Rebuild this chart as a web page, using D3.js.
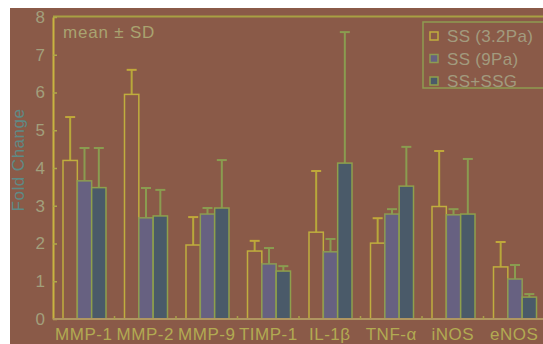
<!DOCTYPE html>
<html>
<head>
<meta charset="utf-8">
<script src="https://cdn.jsdelivr.net/npm/d3@7"></script>
<style>
  body { margin: 0; background: #fff; }
  text { font-family: "Liberation Sans", Arial, sans-serif; }
</style>
</head>
<body>
<div id="chart"></div>
<script>
"use strict"

var categories = ["MMP-1", "MMP-2", "MMP-9", "TIMP-1", "IL-1β", "TNF-α", "iNOS", "eNOS"];
var seriesNames = ["SS (3.2Pa)", "SS (9Pa)", "SS+SSG"];
var ss32 = [4.2, 5.95, 1.96, 1.8, 2.3, 2.01, 2.98, 1.38];
var ss32Sd = [1.15, 0.65, 0.74, 0.27, 1.62, 0.66, 1.47, 0.66];
var ss9 = [3.66, 2.68, 2.78, 1.46, 1.78, 2.78, 2.76, 1.06];
var ss9Sd = [0.87, 0.79, 0.16, 0.42, 0.34, 0.13, 0.15, 0.37];
var ssg = [3.48, 2.73, 2.94, 1.27, 4.13, 3.52, 2.78, 0.58];
var ssgSd = [1.05, 0.69, 1.27, 0.13, 3.47, 1.04, 1.46, 0.08];
var yTicks = [0, 1, 2, 3, 4, 5, 6, 7, 8];

var bg = "#8a5a48";
var fills = [bg, "#676181", "#4a5a69"];
var strokes = ["#c0ae3e", "#8c9c52", "#8ea04c"];

var svg = d3.select("#chart").append("svg")
  .attr("width", 543)
  .attr("height", 344);

svg.append("rect")
  .attr("x", 10).attr("y", 8)
  .attr("width", 533).attr("height", 336)
  .attr("fill", bg);

var pLeft = 53, pTop = 17, pBottom = 319, pRight = 545;

var x = d3.scaleBand()
  .domain(categories)
  .range([pLeft, pRight]);

var xs = d3.scaleBand()
  .domain(seriesNames)
  .range([10, 53]);

var y = d3.scaleLinear()
  .domain([0, 8])
  .range([pBottom, pTop]);

// table for drawing
var rows = [];
categories.forEach(function(c, i) {
  [[ss32, ss32Sd], [ss9, ss9Sd], [ssg, ssgSd]].forEach(function(s, j) {
    rows.push({cat: c, s: j, v: s[0][i], sd: s[1][i]});
  });
});

function cx(d) { return x(d.cat) + xs(seriesNames[d.s]) + xs.bandwidth() / 2 }

// top frame line
svg.append("line")
  .attr("x1", pLeft).attr("x2", 543)
  .attr("y1", pTop - 0.5).attr("y2", pTop - 0.5)
  .attr("stroke", "#a8a042").attr("stroke-width", 2);

// error bars
var eb = svg.append("g");
eb.selectAll("line.v").data(rows).enter().append("line")
  .attr("class", "v")
  .attr("x1", cx).attr("x2", cx)
  .attr("y1", function(d) { return y(d.v) })
  .attr("y2", function(d) { return y(d.v + d.sd) })
  .attr("stroke", function(d) { return d.s == 0 ? "#b8a83a" : "#8a9c50" })
  .attr("stroke-width", 2);
eb.selectAll("line.c").data(rows).enter().append("line")
  .attr("class", "c")
  .attr("x1", function(d) { return cx(d) - 5 })
  .attr("x2", function(d) { return cx(d) + 5 })
  .attr("y1", function(d) { return y(d.v + d.sd) })
  .attr("y2", function(d) { return y(d.v + d.sd) })
  .attr("stroke", function(d) { return d.s == 0 ? "#c0a83a" : "#8a9c50" })
  .attr("stroke-width", 2);

// bars
svg.append("g").selectAll("rect").data(rows).enter().append("rect")
  .attr("x", function(d) { return x(d.cat) + xs(seriesNames[d.s]) })
  .attr("y", function(d) { return y(d.v) })
  .attr("width", xs.bandwidth())
  .attr("height", function(d) { return pBottom - y(d.v) })
  .attr("fill", function(d) { return fills[d.s] })
  .attr("stroke", function(d) { return strokes[d.s] })
  .attr("stroke-width", 1.5);

// y axis
var yAxis = svg.append("g")
  .attr("transform", "translate(" + pLeft + ",0)")
  .call(d3.axisLeft(y).tickValues(yTicks).tickSizeInner(-4).tickSizeOuter(0).tickPadding(8));
yAxis.select(".domain").attr("stroke", "#c8b440").attr("stroke-width", 2);
yAxis.selectAll(".tick line").attr("stroke", "#b0a848").attr("stroke-width", 1.5);
yAxis.selectAll(".tick text")
  .attr("fill", "#a29f7c")
  .style("font-size", "17px");

// x axis line + small ticks at band edges
svg.append("line")
  .attr("x1", pLeft).attr("x2", 543)
  .attr("y1", pBottom).attr("y2", pBottom)
  .attr("stroke", "#b09660").attr("stroke-width", 2);
svg.append("g").selectAll("line").data(categories.slice(1)).enter().append("line")
  .attr("x1", function(d) { return x(d) }).attr("x2", function(d) { return x(d) })
  .attr("y1", pBottom).attr("y2", pBottom - 3)
  .attr("stroke", "#a8a048").attr("stroke-width", 1.5);

svg.append("g").selectAll("text").data(categories).enter().append("text")
  .attr("x", function(d) { return x(d) + x.bandwidth() / 2 })
  .attr("y", 340)
  .attr("text-anchor", "middle")
  .attr("fill", "#b2aa52")
  .style("font-size", "17px")
  .style("letter-spacing", "0.5px")
  .text(function(d) { return d });

// y label
svg.append("text")
  .attr("transform", "translate(24," + (y(4) - 8) + ") rotate(-90)")
  .attr("text-anchor", "middle")
  .attr("fill", "#5e8a86")
  .style("font-size", "17px")
  .style("letter-spacing", "0.5px")
  .text("Fold Change");

svg.append("text")
  .attr("x", 63).attr("y", 38)
  .attr("fill", "#a9a370")
  .style("font-size", "17px")
  .style("letter-spacing", "0.8px")
  .text("mean ± SD");

// legend
var lg = svg.append("g");
lg.append("rect")
  .attr("x", 423).attr("y", 22)
  .attr("width", 130).attr("height", 66)
  .attr("fill", "none")
  .attr("stroke", "#8e9c50").attr("stroke-width", 1.5);
seriesNames.forEach(function(n, i) {
  lg.append("rect")
    .attr("x", 430).attr("y", 32 + i * 22.5)
    .attr("width", 8).attr("height", 8)
    .attr("fill", fills[i])
    .attr("stroke", strokes[i]).attr("stroke-width", 1.5);
  lg.append("text")
    .attr("x", 447).attr("y", 42 + i * 22.5)
    .attr("fill", "#a29a7e")
    .style("font-size", "17px")
    .style("letter-spacing", "0.3px")
    .text(n);
});
</script>
</body>
</html>
